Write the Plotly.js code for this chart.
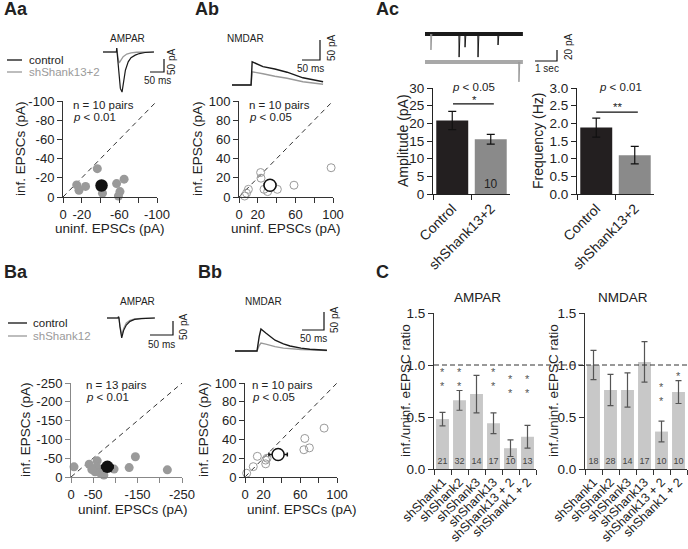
<!DOCTYPE html>
<html><head><meta charset="utf-8">
<script src="https://cdn.plot.ly/plotly-3.0.1.min.js"></script>
<style>html,body{margin:0;padding:0;background:#fff}#chart{width:688px;height:549px}</style>
</head><body><div id="chart"></div>
<script>
// ===================== DATA =====================
// Aa – AMPAR EPSC amplitudes (magnitudes, pA; axes show them as negative currents)
const aaUninf = [14.6, 17, 24, 36.5, 42, 57, 65, 60.6, 59, 40];
const aaInf   = [12.6, 7, 11, 29.5, 4, 14, 18.6, 5.6, 1, 10];
const aaMeanUninf = [41], aaMeanInf = [12], aaMeanErr = [4];
// Ab – NMDAR EPSC amplitudes (pA)
const abUninf = [6, 8, 10, 23, 23.4, 26.6, 30.5, 40.8, 58.5, 98];
const abInf   = [1, 4, 8, 25.5, 19.6, 8, 5.6, 8, 12.3, 30.5];
const abMeanUninf = [33], abMeanInf = [12.3], abMeanErr = [6];
// Ba – AMPAR (magnitudes, pA)
const baUninf = [6.8, 41, 59, 58, 54, 65, 73, 74, 97, 131, 145, 217, 47];
const baInf   = [27, 34, 43, 27, 14, 11, 19, 5, 21, 25, 54, 19, 20];
const baMeanUninf = [82], baMeanInf = [27], baMeanErr = [13];
// Bb – NMDAR (pA)
const bbUninf = [1.8, 9, 13.4, 22.5, 24, 22.5, 64, 65, 70, 86];
const bbInf   = [4, 11, 22, 18, 20, 14, 29, 41, 31, 52];
const bbMeanUninf = [36], bbMeanInf = [24], bbMeanErr = [10];
const scatterTicks = [0, 20, 40, 60, 80, 100];
const scatterTicksB = [0, 50, 100, 150, 200, 250];

// Example EPSC traces (time ms, current pA)
const aaCtrlT = [0, 48, 49, 50, 56, 62, 68, 74, 80, 90, 100, 115, 130, 150, 182];
const aaCtrlI = [0, 0, 15, 0, -60, -140, -154, -110, -70, -38, -22, -12, -6, -2, 0];
const aaShT   = [0, 48, 49, 50, 54, 58, 64, 72, 85, 100, 120, 182];
const aaShI   = [0, 0, 15, 0, -25, -42, -32, -18, -8, -3, -1, 0];
const abT     = [0, 50, 53, 56, 70, 86, 119, 153, 197, 230, 253];
const abCtrlI = [0, 0, 0, 58, 52, 46, 40, 32, 18, 12, 8];
const abShI   = [0, 0, 0, 33, 30, 28, 22, 17, 8, 5, 2];
const baT     = [0, 24, 25, 26, 28, 32, 36, 42, 50, 60, 75, 104];
const baCtrlI = [0, 0, 5, 0, -30, -71, -45, -25, -12, -5, -2, 0];
const baShI   = [0, 0, 5, 0, -25, -62, -38, -18, -8, -3, -1, 0];
const bbT     = [0, 48, 50, 55, 59, 70, 91, 110, 125, 150, 170, 209];
const bbCtrlI = [0, 0, 0, 40, 61, 50, 30, 20, 14, 8, 5, 2];
const bbShI   = [0, 0, 0, 15, 22, 19, 12, 8, 6, 4, 3, 1];
// Ac – mEPSC example (time s, pA)
const miniDuration = 4.45;
const miniGrayOffset = -51;
const miniCtrlSpikeT = [1.55, 1.82, 2.41, 3.32];
const miniCtrlSpikeA = [42, 24, 42, 20];
const miniCtrlGraySpikeT = [0.27];
const miniCtrlGraySpikeA = [29];
const miniShSpikeT = [4.27];
const miniShSpikeA = [36];

// Ac – bars
const acGroups = ['Control', 'shShank13+2'];
const acAmp = [20.8, 15.5], acAmpErr = [2.6, 1.4];
const acFreq = [1.88, 1.1], acFreqErr = [0.27, 0.25];
const acAmpN = ['', '10'];
const acFreqN = ['', ''];

// C – ratio bars
const cGroups = ['shShank1', 'shShank2', 'shShank3', 'shShank13', 'shShank13 + 2', 'shShank1 + 2'];
const cAmpa = [0.48, 0.66, 0.72, 0.44, 0.20, 0.31];
const cAmpaErr = [0.065, 0.095, 0.18, 0.10, 0.08, 0.11];
const cAmpaN = ['21', '32', '14', '17', '10', '13'];
const cAmpaStars = ['**', '**', '', '**', '**', '**'];
const cNmda = [1.0, 0.76, 0.76, 1.03, 0.36, 0.74];
const cNmdaErr = [0.14, 0.15, 0.165, 0.195, 0.10, 0.11];
const cNmdaN = ['18', '28', '14', '17', '10', '10'];
const cNmdaStars = ['', '', '', '', '**', '*'];
const ratioTicks = [0, 0.5, 1.0, 1.5];

// ===================== HELPERS =====================
const W = 688, H = 549;
const fx = p => p / W;
const fy = p => 1 - p / H;
const FONT = '"Liberation Sans", Arial, Helvetica, sans-serif';
const GRAY = '#9a9a9a';

const data = [];
const annotations = [];
const shapes = [];
const layout = {
  width: W, height: H, margin: {l: 0, r: 0, t: 0, b: 0},
  paper_bgcolor: '#fff', plot_bgcolor: 'rgba(0,0,0,0)',
  showlegend: false, font: {family: FONT, color: '#222', size: 13},
  hovermode: false
};

function ann(px, py, text, o) {
  o = o || {};
  annotations.push(Object.assign({
    xref: 'paper', yref: 'paper', x: fx(px), y: fy(py), text: text, showarrow: false,
    xanchor: 'center', yanchor: 'middle', font: {family: FONT, size: 13, color: '#222'}
  }, o));
}

function axisBase(color, fs) {
  return {showline: true, linecolor: color, linewidth: 1, ticks: 'outside', ticklen: 5,
    tickcolor: color, tickwidth: 1, showgrid: false, zeroline: false, automargin: false,
    fixedrange: true, tickfont: {family: FONT, size: fs || 13, color: '#222'}};
}

// scatter panel
function scatterPanel(k, dom, range, tvals, xText, yText, color, pts, mean, open) {
  const xa = 'xaxis' + (k === 1 ? '' : k), ya = 'yaxis' + (k === 1 ? '' : k);
  const xr = 'x' + (k === 1 ? '' : k), yr = 'y' + (k === 1 ? '' : k);
  layout[xa] = Object.assign(axisBase(color), {domain: [fx(dom[0]), fx(dom[1])], range: range,
    anchor: yr, tickmode: 'array', tickvals: tvals, ticktext: xText});
  layout[ya] = Object.assign(axisBase(color), {domain: [fy(dom[3]), fy(dom[2])], range: range,
    anchor: xr, tickmode: 'array', tickvals: tvals, ticktext: yText});
  data.push({type: 'scatter', mode: 'lines', x: [range[0], range[1]], y: [range[0], range[1]],
    line: {color: '#333', width: 1, dash: '5px,4px'}, xaxis: xr, yaxis: yr, cliponaxis: false});
  data.push({type: 'scatter', mode: 'markers', x: pts[0], y: pts[1], xaxis: xr, yaxis: yr, cliponaxis: false,
    marker: open ? {symbol: 'circle-open', size: 8, color: GRAY, line: {width: 1, color: GRAY}}
                 : {size: 9, color: GRAY}});
  data.push({type: 'scatter', mode: 'markers', x: mean[0], y: mean[1], xaxis: xr, yaxis: yr, cliponaxis: false,
    error_x: {type: 'data', array: mean[2], color: '#111', thickness: 1.5, width: 2},
    marker: open ? {size: 12, color: '#fff', line: {width: 1.5, color: '#111'}}
                 : {size: 12.5, color: '#111'}});
}

// calibrated (scale-bar) axes for example traces
function calibrated(k, pxA, pxB, ox, sx, pyT, pyB, oy, sy) {
  layout['xaxis' + k] = {domain: [fx(pxA), fx(pxB)], range: [(pxA - ox) / sx, (pxB - ox) / sx],
    visible: false, anchor: 'y' + k, fixedrange: true};
  layout['yaxis' + k] = {domain: [fy(pyB), fy(pyT)], range: [(oy - pyB) / sy, (oy - pyT) / sy],
    visible: false, anchor: 'x' + k, fixedrange: true};
  return {
    t: px => (px - ox) / sx,
    v: py => (oy - py) / sy
  };
}
function traceLine(k, x, y, color, width) {
  data.push({type: 'scatter', mode: 'lines', x: x, y: y, xaxis: 'x' + k, yaxis: 'y' + k,
    line: {color: color, width: width || 1.3}, cliponaxis: false});
}
function scaleBar(k, cal, pxLeft, pyBottom, lenX, lenY) {
  const t0 = cal.t(pxLeft), v0 = cal.v(pyBottom);
  traceLine(k, [t0, t0 + lenX, t0 + lenX], [v0, v0, v0 + lenY], '#111', 1.2);
}

// ===================== SCATTER PANELS =====================
const neg = a => a.map(v => (v === 0 ? '0' : '-' + v));
scatterPanel(1, [63, 157, 101, 197], [0, 100], scatterTicks,
  ['0', '-20', '', '-60', '', '-100'], neg(scatterTicks), '#333',
  [aaUninf, aaInf], [aaMeanUninf, aaMeanInf, aaMeanErr], false);
scatterPanel(2, [239, 333, 101, 197], [0, 100], scatterTicks,
  ['0', '20', '', '60', '', '100'], scatterTicks.map(String), '#333',
  [abUninf, abInf], [abMeanUninf, abMeanInf, abMeanErr], true);
scatterPanel(3, [71, 182, 383, 477], [0, 250], scatterTicksB,
  ['0', '-50', '', '-150', '', '-250'], neg(scatterTicksB), '#888',
  [baUninf, baInf], [baMeanUninf, baMeanInf, baMeanErr], false);
scatterPanel(4, [245, 337, 383, 477], [0, 100], scatterTicks,
  ['0', '20', '', '60', '', '100'], scatterTicks.map(String), '#333',
  [bbUninf, bbInf], [bbMeanUninf, bbMeanInf, bbMeanErr], true);

// ===================== Ac BARS =====================
function acPanel(k, dom, vals, errs, ns, range, tvals, ttext) {
  layout['xaxis' + k] = Object.assign(axisBase('#222', 14), {domain: [fx(dom[0]), fx(dom[1])], anchor: 'y' + k,
    type: 'category', range: [-0.5, 1.5], tickson: 'boundaries', tickangle: -45, ticklen: 5});
  layout['yaxis' + k] = Object.assign(axisBase('#222', 13.5), {domain: [fy(dom[3]), fy(dom[2])], anchor: 'x' + k,
    range: range, tickmode: 'array', tickvals: tvals, ticktext: ttext});
  data.push({type: 'bar', x: acGroups, y: vals, width: 0.83, xaxis: 'x' + k, yaxis: 'y' + k,
    marker: {color: ['#231f20', '#8a8a8a'], line: {width: 0}},
    text: ns, textposition: 'inside', insidetextanchor: 'start', textangle: 0,
    textfont: {family: FONT, size: 12, color: '#222'},
    error_y: {type: 'data', array: errs, color: '#111', thickness: 1.2, width: 4}});
}
acPanel(5, [433, 510, 88, 194], acAmp, acAmpErr, acAmpN, [0, 30], [0, 5, 10, 15, 20, 25, 30],
  ['0', '5', '10', '15', '20', '25', '30']);
acPanel(6, [577, 654, 88, 194], acFreq, acFreqErr, acFreqN, [0, 3], [0, 0.5, 1, 1.5, 2, 2.5, 3],
  ['0.0', '0.5', '1.0', '1.5', '2.0', '2.5', '3.0']);
shapes.push({type: 'line', xref: 'x5', yref: 'y5', x0: 0.02, x1: 1.08, y0: 25.5, y1: 25.5, line: {color: '#111', width: 1.2}});
shapes.push({type: 'line', xref: 'x6', yref: 'y6', x0: 0.0, x1: 1.08, y0: 2.32, y1: 2.32, line: {color: '#111', width: 1.2}});

// ===================== C BARS =====================
function cPanel(k, dom, vals, errs, ns, stars, starLevel) {
  layout['xaxis' + k] = Object.assign(axisBase('#333'), {domain: [fx(dom[0]), fx(dom[1])], anchor: 'y' + k,
    type: 'category', range: [-0.5, 5.5], tickson: 'boundaries', tickangle: -45,
    tickfont: {family: FONT, size: 12.5, color: '#222'}});
  layout['yaxis' + k] = Object.assign(axisBase('#333', 13.5), {domain: [fy(dom[3]), fy(dom[2])], anchor: 'x' + k,
    range: [0, 1.5], tickmode: 'array', tickvals: ratioTicks, ticktext: ratioTicks.map(v => v.toFixed(1))});
  data.push({type: 'bar', x: cGroups, y: vals, width: 0.76, xaxis: 'x' + k, yaxis: 'y' + k,
    marker: {color: '#c8c8c8', line: {width: 0}},
    text: ns, textposition: 'inside', insidetextanchor: 'start', textangle: 0,
    textfont: {family: FONT, size: 9, color: '#444'}, constraintext: 'none',
    error_y: {type: 'data', array: errs, color: '#555', thickness: 1.2, width: 3}});
  stars.forEach((s, i) => {
    if (!s) return;
    annotations.push({xref: 'x' + k, yref: 'y' + k, x: cGroups[i], y: starLevel[i],
      text: s.split('').join('<br>'), showarrow: false, yanchor: 'middle',
      font: {family: FONT, size: 11, color: '#555'}});
  });
}
cPanel(7, [434, 536, 313, 469], cAmpa, cAmpaErr, cAmpaN, cAmpaStars, [0.87, 0.87, 0, 0.87, 0.80, 0.80]);
cPanel(8, [585, 687, 313, 469], cNmda, cNmdaErr, cNmdaN, cNmdaStars, [0, 0, 0, 0, 0.72, 0.89]);
shapes.push({type: 'line', xref: 'paper', yref: 'y7', x0: fx(434), x1: 1, y0: 1, y1: 1,
  line: {color: '#333', width: 1, dash: '5px,3px'}});

// ===================== EXAMPLE TRACES =====================
const calAa = calibrated(9, 96, 182, 103, 0.28, 30, 100, 52, 0.26);
traceLine(9, aaShT, aaShI, GRAY, 1.3);
traceLine(9, aaCtrlT, aaCtrlI, '#1a1a1a', 1.2);
scaleBar(9, calAa, 150, 72, 50, 50);

const calAb = calibrated(10, 228, 330, 232, 0.36, 35, 95, 85, 0.4);
traceLine(10, abT, abShI, GRAY, 1.4);
traceLine(10, abT, abCtrlI, '#1a1a1a', 1.4);
scaleBar(10, calAb, 302, 60, 50, 50);

const calBa = calibrated(11, 100, 180, 107, 0.46, 305, 345, 318, 0.28);
traceLine(11, baT, baShI, GRAY, 1.3);
traceLine(11, baT, baCtrlI, '#1a1a1a', 1.2);
scaleBar(11, calBa, 150, 335, 50, 50);

const calBb = calibrated(12, 230, 332, 235, 0.44, 305, 360, 351, 0.36);
traceLine(12, bbT, bbShI, GRAY, 1.4);
traceLine(12, bbT, bbCtrlI, '#1a1a1a', 1.4);
scaleBar(12, calBb, 302, 330, 50, 50);

const calAc = calibrated(13, 420, 560, 425, 22, 25, 90, 34, 0.55);
function spikes(ts, as, base) {
  const x = [], y = [];
  ts.forEach((t, i) => { x.push(t - 0.01, t, t + 0.04, null); y.push(base, base - as[i], base, null); });
  return [x, y];
}
traceLine(13, [0, miniDuration], [miniGrayOffset, miniGrayOffset], '#a8a8a8', 4);
traceLine(13, [0, miniDuration], [0, 0], '#1a1a1a', 4);
let sp = spikes(miniCtrlSpikeT, miniCtrlSpikeA, 0); traceLine(13, sp[0], sp[1], '#1a1a1a', 1);
sp = spikes(miniCtrlGraySpikeT, miniCtrlGraySpikeA, 0); traceLine(13, sp[0], sp[1], '#999', 1);
sp = spikes(miniShSpikeT, miniShSpikeA, miniGrayOffset); traceLine(13, sp[0], sp[1], '#999', 1);
scaleBar(13, calAc, 535, 61, 1, 20);

// ===================== TEXT =====================
const bold = {family: FONT, size: 18, color: '#222', weight: 'bold'};
ann(2, 9, '<b>Aa</b>', {xanchor: 'left', font: bold});
ann(193, 9, '<b>Ab</b>', {xanchor: 'left', font: bold});
ann(374, 9, '<b>Ac</b>', {xanchor: 'left', font: bold});
ann(2, 272, '<b>Ba</b>', {xanchor: 'left', font: bold});
ann(196, 272, '<b>Bb</b>', {xanchor: 'left', font: bold});
ann(374, 272, '<b>C</b>', {xanchor: 'left', font: bold});

const small = {family: FONT, size: 10, color: '#222'};
const stat = {family: FONT, size: 11.5, color: '#222'};
// trace labels & scale bar labels
ann(127, 39, 'AMPAR', {font: small});
ann(245, 38, 'NMDAR', {font: small});
ann(137, 301, 'AMPAR', {font: small});
ann(263, 301, 'NMDAR', {font: small});
ann(157, 81, '50 ms', {font: small});
ann(172, 62, '50 pA', {font: small, textangle: -90});
ann(310, 68, '50 ms', {font: small});
ann(332, 48, '50 pA', {font: small, textangle: -90});
ann(161, 344, '50 ms', {font: small});
ann(183, 327, '50 pA', {font: small, textangle: -90});
ann(313, 338, '50 ms', {font: small});
ann(334, 320, '50 pA', {font: small, textangle: -90});
ann(547, 68, '1 sec', {font: small});
ann(569, 47, '20 pA', {font: small, textangle: -90});
// legends
shapes.push({type: 'line', xref: 'paper', yref: 'paper', x0: fx(7), x1: fx(22), y0: fy(60), y1: fy(60), line: {color: '#111', width: 1.3}});
shapes.push({type: 'line', xref: 'paper', yref: 'paper', x0: fx(7), x1: fx(22), y0: fy(72), y1: fy(72), line: {color: GRAY, width: 1.3}});
ann(27, 60, 'control', {xanchor: 'left', font: {family: FONT, size: 11.5, color: '#222'}});
ann(27, 72, 'shShank13+2', {xanchor: 'left', font: {family: FONT, size: 11.5, color: GRAY}});
shapes.push({type: 'line', xref: 'paper', yref: 'paper', x0: fx(8), x1: fx(27), y0: fy(323), y1: fy(323), line: {color: '#111', width: 1.3}});
shapes.push({type: 'line', xref: 'paper', yref: 'paper', x0: fx(8), x1: fx(27), y0: fy(336), y1: fy(336), line: {color: GRAY, width: 1.3}});
ann(31, 323, 'control', {xanchor: 'left', font: {family: FONT, size: 11.5, color: '#222'}});
ann(31, 336, 'shShank12', {xanchor: 'left', font: {family: FONT, size: 11.5, color: GRAY}});
// stats
ann(71, 105, 'n = 10 pairs', {xanchor: 'left', font: stat});
ann(71, 117, '<i>p</i> &lt; 0.01', {xanchor: 'left', font: stat});
ann(247, 105, 'n = 10 pairs', {xanchor: 'left', font: stat});
ann(247, 117, '<i>p</i> &lt; 0.05', {xanchor: 'left', font: stat});
ann(84, 385, 'n = 13 pairs', {xanchor: 'left', font: stat});
ann(84, 397, '<i>p</i> &lt; 0.01', {xanchor: 'left', font: stat});
ann(250, 385, 'n = 10 pairs', {xanchor: 'left', font: stat});
ann(250, 397, '<i>p</i> &lt; 0.05', {xanchor: 'left', font: stat});
// Ac stats
ann(473, 87, '<i>p</i> &lt; 0.05', {font: stat});
ann(474, 100, '*', {font: stat});
ann(620, 87, '<i>p</i> &lt; 0.01', {font: stat});
ann(617, 107, '**', {font: stat});
// axis titles
const ttl = {family: FONT, size: 13.5, color: '#222'};
const ttlAc = {family: FONT, size: 14, color: '#222'};
ann(21, 149, 'inf. EPSCs (pA)', {textangle: -90, font: ttl});
ann(110, 228, 'uninf. EPSCs (pA)', {font: ttl});
ann(198, 149, 'inf. EPSCs (pA)', {textangle: -90, font: ttl});
ann(286, 228, 'uninf. EPSCs (pA)', {font: ttl});
ann(25, 430, 'inf. EPSCs (pA)', {textangle: -90, font: ttl});
ann(133, 509, 'uninf. EPSCs (pA)', {font: ttl});
ann(203, 430, 'inf. EPSCs (pA)', {textangle: -90, font: ttl});
ann(302, 509, 'uninf. EPSCs (pA)', {font: ttl});
ann(403, 141, 'Amplitude (pA)', {textangle: -90, font: ttlAc});
ann(538, 141, 'Frequency (Hz)', {textangle: -90, font: ttlAc});
ann(477, 297, 'AMPAR', {font: ttl});
ann(623, 297, 'NMDAR', {font: ttl});
ann(405, 391, 'inf./uninf. eEPSC ratio', {textangle: -90, font: ttl});
ann(553, 391, 'inf./uninf. eEPSC ratio', {textangle: -90, font: ttl});

layout.annotations = annotations;
layout.shapes = shapes;
Plotly.newPlot('chart', data, layout, {staticPlot: true, displayModeBar: false});
</script>
</body></html>
